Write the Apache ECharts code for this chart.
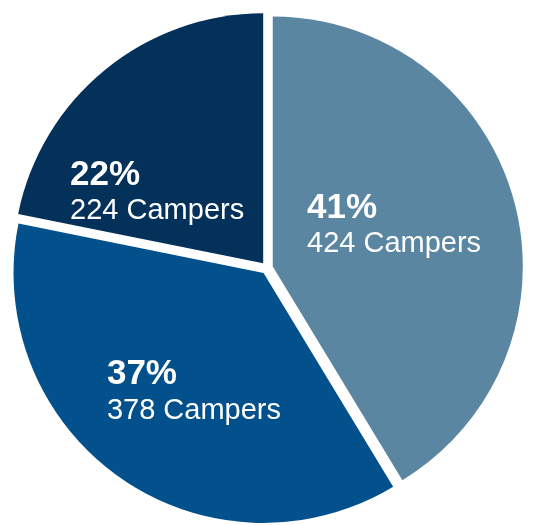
<!DOCTYPE html>
<html>
<head>
<meta charset="utf-8">
<script src="https://cdn.jsdelivr.net/npm/echarts@6/dist/echarts.min.js"></script>
<style>
  html, body { margin: 0; padding: 0; background: #fff; }
  #chart { width: 540px; height: 525px; }
</style>
</head>
<body>
<div id="chart"></div>
<script>
// 数据
var categories = ['A', 'B', 'C'];
var campers = [424, 378, 224];
var colors = ['#5a86a2', '#02508c', '#03315a'];
// label nudges (px) so text sits where the reference has it
var labelShift = [[-2, -6], [4, 15], [-25, 29]];

var chart = echarts.init(document.getElementById('chart'));

var pieData = campers.map(function (v, i) {
  return {
    name: categories[i],
    value: v,
    selected: true,
    itemStyle: { color: colors[i] }
  };
});

var option = {
  animation: false,
  series: [{
    type: 'pie',
    center: [267, 268],
    radius: 250,
    startAngle: 90,
    clockwise: true,
    percentPrecision: 0,
    selectedMode: 'multiple',
    selectedOffset: 6,
    avoidLabelOverlap: false,
    emphasis: { disabled: true },
    label: {
      show: true,
      position: 'inner',
      formatter: '{p|{d}%}\n{n|{c} Campers}',
      rich: {
        p: {
          fontFamily: 'Liberation Sans, Arial, sans-serif',
          fontWeight: 'bold',
          fontSize: 35,
          color: '#fff',
          lineHeight: 36,
          align: 'left'
        },
        n: {
          fontFamily: 'Liberation Sans, Arial, sans-serif',
          fontSize: 29,
          color: '#fff',
          lineHeight: 36,
          align: 'left'
        }
      }
    },
    // 标签位置微调
    labelLayout: function (params) {
      var s = labelShift[params.dataIndex];
      return { dx: s[0], dy: s[1] };
    },
    labelLine: { show: false },
    data: pieData
  }]
};

chart.setOption(option);
</script>
</body>
</html>
